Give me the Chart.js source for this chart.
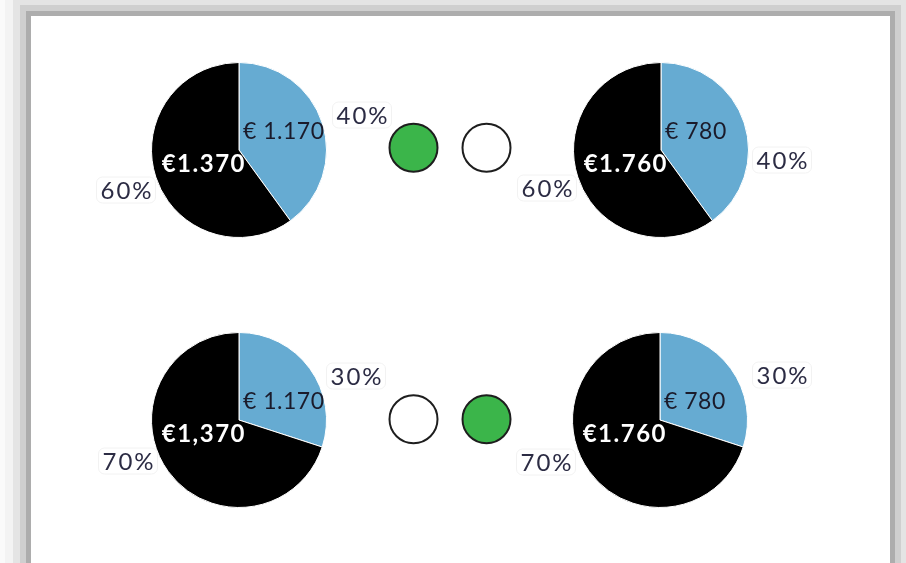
<!DOCTYPE html>
<html>
<head>
<meta charset="utf-8">
<script src="https://cdn.jsdelivr.net/npm/chart.js@4"></script>
<style>
  html, body { margin: 0; padding: 0; }
  body { width: 906px; height: 563px; overflow: hidden; position: relative; background: #fafafa; }
  .tarjeta {
    position: absolute; left: 31px; top: 16px; width: 859px; height: 600px; background: #fff;
    box-shadow: 0 0 0 5px #adadad, 0 0 0 11px #cfcfcf, 0 0 0 18px #e4e4e4, 0 0 0 26px #f3f3f3;
  }
  canvas { position: absolute; }
  #semaforo { z-index: 2; }
</style>
</head>
<body>
<div class="tarjeta"></div>
<canvas id="torta_1" width="340" height="196" style="left:69px;top:52px"></canvas>
<canvas id="torta_2" width="340" height="196" style="left:491px;top:52px"></canvas>
<canvas id="torta_3" width="340" height="196" style="left:69px;top:322px"></canvas>
<canvas id="torta_4" width="340" height="196" style="left:490px;top:322px"></canvas>
<canvas id="semaforo" width="146" height="543" style="left:377px;top:12px"></canvas>
<script>
  // datos de las tortas
  const etiquetas_torta = ["Azul", "Negro"]
  const porcentajes_fila1 = [40, 60]
  const porcentajes_fila2 = [30, 70]
  const montos_izq_fila1 = ["€ 1.170", "€1.370"]
  const montos_der_fila1 = ["€ 780", "€1.760"]
  const montos_izq_fila2 = ["€ 1.170", "€1,370"]
  const montos_der_fila2 = ["€ 780", "€1.760"]
  const color_torta = ['#66abd2', '#000000']

  // datos del semaforo
  const columnas_semaforo = ["izquierda", "derecha"]
  const filas_semaforo = ["fila 1", "fila 2"]
  const estado_semaforo = [[true, false], [false, true]]

  const fuente = "Lato, 'Open Sans', sans-serif";

  // plugin para escribir montos y porcentajes
  const pluginEtiquetas = {
    id: 'etiquetas',
    afterDatasetsDraw(chart, args, opts) {
      const ctx = chart.ctx;
      const arcos = chart.getDatasetMeta(0).data;
      const cx = arcos[0].x, cy = arcos[0].y;
      const datos = chart.data.datasets[0].data;
      ctx.save();
      ctx.textBaseline = 'middle';
      // montos dentro
      ctx.font = "23px " + fuente;
      ctx.letterSpacing = '0.5px';
      ctx.textAlign = 'left';
      ctx.fillStyle = '#1b1b2b';
      ctx.fillText(opts.montos[0], cx + 4, cy - 18);
      ctx.font = "bold 24px " + fuente;
      ctx.letterSpacing = '1.5px';
      ctx.textAlign = 'right';
      ctx.fillStyle = '#ffffff';
      ctx.fillText(opts.montos[1], cx + 7, cy + 14);
      // porcentajes fuera
      ctx.font = "24px " + fuente;
      ctx.letterSpacing = '2px';
      ctx.textAlign = 'center';
      datos.forEach(function (v, i) {
        const texto = v + '%';
        const x = cx + opts.posPct[i][0], y = cy + opts.posPct[i][1];
        const w = ctx.measureText(texto).width + 6;
        ctx.fillStyle = '#ffffff';
        ctx.strokeStyle = '#f2f2f2';
        ctx.lineWidth = 1;
        ctx.beginPath();
        ctx.roundRect(x - w / 2, y - 13, w, 26, 6);
        ctx.fill();
        ctx.stroke();
        ctx.fillStyle = '#2c2c44';
        ctx.fillText(texto, x + 1, y + 1);
      });
      ctx.restore();
    }
  };

  let crearTorta = function (id, porcentajes, montos, posPct) {
    new Chart(document.querySelector(id), {
      type: 'pie',
      data: {
        labels: etiquetas_torta,
        datasets: [{
          data: porcentajes,
          backgroundColor: color_torta,
          borderColor: '#ffffff',
          borderWidth: 1
        }]
      },
      options: {
        responsive: false,
        animation: false,
        layout: { padding: { top: 10, bottom: 10 } },
        plugins: {
          legend: { display: false },
          tooltip: { enabled: false },
          etiquetas: { montos: montos, posPct: posPct }
        }
      },
      plugins: [pluginEtiquetas]
    });
  }

  crearTorta("#torta_1", porcentajes_fila1, montos_izq_fila1, [[123, -35], [-113, 40]]);
  crearTorta("#torta_2", porcentajes_fila1, montos_der_fila1, [[121, 10], [-114, 38]]);
  crearTorta("#torta_3", porcentajes_fila2, montos_izq_fila2, [[117, -44], [-111, 41]]);
  crearTorta("#torta_4", porcentajes_fila2, montos_der_fila2, [[122, -45], [-114, 42]]);

  // semaforo (circulos verde / blanco)
  const puntos = [];
  const colores = [];
  filas_semaforo.forEach(function (fila, f) {
    columnas_semaforo.forEach(function (col, c) {
      puntos.push({ x: col, y: fila });
      colores.push(estado_semaforo[f][c] ? '#3bb54a' : '#ffffff');
    });
  });

  new Chart(document.querySelector("#semaforo"), {
    type: 'scatter',
    data: {
      datasets: [{
        data: puntos,
        backgroundColor: colores,
        borderColor: '#1e1e1e',
        borderWidth: 2,
        pointRadius: 24,
        clip: false
      }]
    },
    options: {
      responsive: false,
      animation: false,
      layout: { padding: 0, autoPadding: false },
      scales: {
        x: { type: 'category', labels: columnas_semaforo, offset: true, display: false },
        y: { type: 'category', labels: filas_semaforo, offset: true, display: false }
      },
      plugins: { legend: { display: false }, tooltip: { enabled: false } }
    }
  });
</script>
</body>
</html>
